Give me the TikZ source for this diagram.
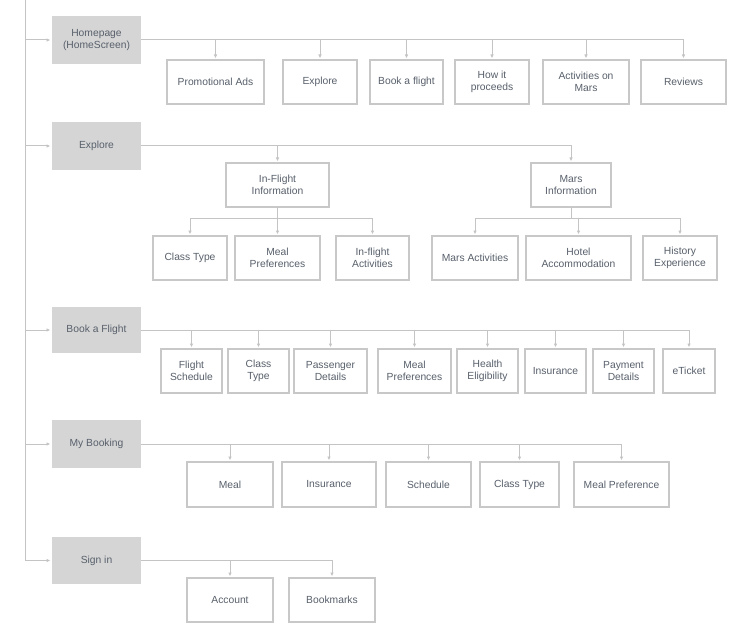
\documentclass[tikz,border=0pt]{standalone}
\usepackage{fontspec}
\setmainfont{Liberation Sans}
\usetikzlibrary{arrows.meta}
\definecolor{linec}{HTML}{C4C4C4}
\definecolor{boxc}{HTML}{C8C8C8}
\definecolor{mainfill}{HTML}{D5D5D5}
\definecolor{txtc}{HTML}{58606B}
\tikzset{
  box/.style={draw=boxc, line width=1.1pt, fill=white, inner sep=0pt, outer sep=0pt, align=center, text=txtc, font=\fontsize{10.3}{12.3}\selectfont},
  mainst/.style={fill=mainfill, inner sep=0pt, outer sep=0pt, align=center, text=txtc, font=\fontsize{10.3}{12.3}\selectfont},
  conn/.style={draw=linec, line width=1pt},
  arr/.style={-{Latex[length=4pt,width=3.5pt]}, shorten >=1.5pt},
}
\newcommand\mybox[6]{\node[box,minimum width={#4-#2},minimum height={#5-#3}] (#1) at ({(#2+#4)/2},{(#3+#5)/2}) {#6};}
\newcommand\mymain[4]{\node[mainst,minimum width=89,minimum height={#3-#2}] (#1) at (96.5,{(#2+#3)/2}) {#4};}
\begin{document}
\begin{tikzpicture}[x=1pt,y=-1pt]
\useasboundingbox (0,0) rectangle (732,626);
% main boxes
\mymain{hp}{16}{64}{Homepage\\(HomeScreen)}
\mymain{ex}{122}{170}{Explore}
\mymain{bk}{307}{353}{Book a Flight}
\mymain{mb}{420}{468}{My Booking}
\mymain{si}{537}{584}{Sign in}
% left spine
\coordinate (top) at (25,0);
\draw[conn,arr] (top) |- (si.west);
\foreach \n in {hp,ex,bk,mb}{\draw[conn,arr] (top |- \n.west) -- (\n.west);}
% homepage children
\mybox{pa}{167}{60}{264}{104}{Promotional Ads}
\mybox{exa}{283}{60}{357}{104}{Explore}
\mybox{bfa}{370}{60}{443}{104}{Book a flight}
\mybox{hw}{455}{60}{529}{104}{How it\\proceeds}
\mybox{am}{543}{60}{629}{104}{Activities on\\Mars}
\mybox{rv}{641}{60}{726}{104}{Reviews}
\foreach \n in {pa,exa,bfa,hw,am,rv}{\draw[conn,arr] (hp.east) -| (\n.north);}
% explore
\mybox{ifi}{226}{163}{329}{207}{In-Flight\\Information}
\mybox{mi}{531}{163}{611}{207}{Mars\\Information}
\draw[conn,arr] (ex.east) -| (ifi.north);
\draw[conn,arr] (ex.east) -| (mi.north);
\mybox{cta}{153}{236}{227}{280}{Class Type}
\mybox{mpa}{235}{236}{320}{280}{Meal\\Preferences}
\mybox{ia}{336}{236}{409}{280}{In-flight\\Activities}
\foreach \n in {cta,mpa,ia}{\draw[conn,arr] (ifi.south) -- ++(0,11) -| (\n.north);}
\mybox{ma}{432}{236}{518}{280}{Mars Activities}
\mybox{ha}{526}{236}{631}{280}{Hotel\\Accommodation}
\mybox{hx}{643}{236}{717}{280}{History\\Experience}
\foreach \n in {ma,ha,hx}{\draw[conn,arr] (mi.south) -- ++(0,11) -| (\n.north);}
% book a flight
\mybox{fs}{161}{349}{222}{393}{Flight\\Schedule}
\mybox{ctb}{228}{349}{289}{393}{Class\\Type}
\mybox{pd}{294}{349}{367}{393}{Passenger\\Details}
\mybox{mpb}{378}{349}{451}{393}{Meal\\Preferences}
\mybox{hel}{457}{349}{518}{393}{Health\\Eligibility}
\mybox{insa}{525}{349}{586}{393}{Insurance}
\mybox{pay}{593}{349}{654}{393}{Payment\\Details}
\mybox{et}{663}{349}{715}{393}{eTicket}
\foreach \n in {fs,ctb,pd,mpb,hel,insa,pay,et}{\draw[conn,arr] (bk.east) -| (\n.north);}
% my booking
\mybox{ml}{187}{462}{273}{507}{Meal}
\mybox{insb}{282}{462}{376}{507}{Insurance}
\mybox{sch}{386}{462}{471}{507}{Schedule}
\mybox{ctc}{480}{462}{559}{507}{Class Type}
\mybox{mpf}{574}{462}{669}{507}{Meal Preference}
\foreach \n in {ml,insb,sch,ctc,mpf}{\draw[conn,arr] (mb.east) -| (\n.north);}
% sign in
\mybox{acc}{187}{578}{273}{622}{Account}
\mybox{bm}{289}{578}{375}{622}{Bookmarks}
\foreach \n in {acc,bm}{\draw[conn,arr] (si.east) -| (\n.north);}
\end{tikzpicture}
\end{document}
